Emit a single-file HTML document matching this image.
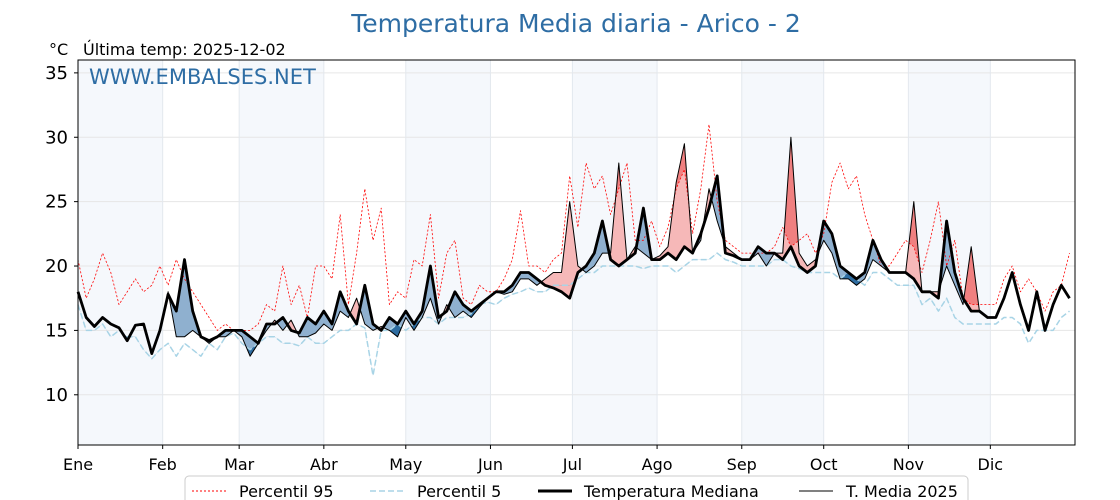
<!DOCTYPE html>
<html><head><meta charset="utf-8"><style>
body{margin:0;background:#fff;font-family:"Liberation Sans","DejaVu Sans",sans-serif;}
svg{display:block}
</style></head><body>
<svg id="chart" width="1120" height="500" font-family="'DejaVu Sans','Liberation Sans',sans-serif">
<text x="576" y="32" text-anchor="middle" font-size="25" fill="#2e6da4">Temperatura Media diaria - Arico - 2</text>
<text x="49" y="55" font-size="16" fill="#000">°C</text>
<text x="83" y="55" font-size="16" fill="#000">Última temp: 2025-12-02</text>
<g id="plot"></g>
<text x="89" y="84" font-size="21" fill="#2e6da4">WWW.EMBALSES.NET</text>
<g>
<rect x="185" y="476" width="783" height="34" rx="4" fill="#fff" stroke="#ccc"/>
<line x1="192" y1="491" x2="226" y2="491" stroke="red" stroke-width="1" stroke-dasharray="2,2"/>
<text x="239" y="497" font-size="16">Percentil 95</text>
<line x1="370" y1="491" x2="404" y2="491" stroke="#a8d4e6" stroke-width="1.5" stroke-dasharray="6,3"/>
<text x="417" y="497" font-size="16">Percentil 5</text>
<line x1="538" y1="491" x2="572" y2="491" stroke="#000" stroke-width="3"/>
<text x="584" y="497" font-size="16">Temperatura Mediana</text>
<line x1="799" y1="491" x2="833" y2="491" stroke="#000" stroke-width="1"/>
<text x="846" y="497" font-size="16">T. Media 2025</text>
</g>
</svg>
<script>
const monthLabels=["Ene","Feb","Mar","Abr","May","Jun","Jul","Ago","Sep","Oct","Nov","Dic"];
const monthStartDays=[0,31,59,90,120,151,181,212,243,273,304,334];
const yTicks=[10,15,20,25,30,35];
const stepDays=3;
const median=[18.0,16.0,15.3,16.0,15.5,15.2,14.2,15.4,15.5,13.2,15.0,
17.8,16.5,20.5,16.5,14.5,14.2,14.5,15.0,15.0,
15.0,14.5,14.0,15.5,15.5,16.0,15.0,14.8,16.0,15.5,
16.5,15.5,18.0,16.5,15.5,18.5,15.5,15.0,16.0,15.5,
16.5,15.5,16.5,20.0,16.0,16.5,18.0,17.0,16.5,17.0,17.5,
18.0,18.0,18.5,19.5,19.5,19.0,18.5,18.3,18.0,17.5,
19.5,20.0,21.0,23.5,20.5,20.0,20.5,21.0,24.5,20.5,
20.5,21.0,20.5,21.5,21.0,22.5,24.5,27.0,21.0,20.8,
20.5,20.5,21.5,21.0,21.0,20.5,21.5,20.0,19.5,20.0,
23.5,22.5,20.0,19.5,19.0,19.5,22.0,20.5,19.5,19.5,19.5,
19.0,18.0,18.0,17.5,23.5,19.5,17.5,16.5,16.5,16.0,
16.0,17.5,19.5,17.0,15.0,18.0,15.0,17.0,18.5,17.5];
const t2025=[18.0,16.0,15.3,16.0,15.5,15.2,14.2,15.4,15.5,13.2,15.0,
18.0,14.5,14.5,15.0,14.5,14.0,14.5,14.5,15.0,
14.5,13.0,14.0,15.0,15.8,15.0,15.8,14.5,14.5,14.8,
15.5,15.0,16.5,16.0,17.5,15.5,15.0,15.3,15.0,14.5,
16.0,15.0,16.0,17.5,15.5,17.0,16.0,16.5,16.0,16.8,17.5,
18.0,17.8,18.0,19.0,19.0,18.5,19.0,19.5,19.5,25.0,
20.0,19.5,20.0,21.0,21.0,28.0,20.5,21.5,21.0,20.5,
20.8,21.5,26.5,29.5,21.0,22.0,26.0,23.5,21.5,21.0,
20.5,20.5,21.0,20.0,21.0,21.0,30.0,21.0,20.0,20.5,
22.0,21.0,19.0,19.0,18.5,19.0,20.5,20.0,19.5,19.5,19.5,
25.0,18.0,18.0,18.0,20.0,18.5,17.0,21.5,16.5,16.0,
16.0];
const p95=[20.5,17.5,19.0,21.0,19.5,17.0,18.0,19.0,18.0,18.5,20.0,
18.5,20.5,19.0,18.0,17.0,16.0,15.0,15.5,15.0,
15.0,15.0,15.5,17.0,16.5,20.0,17.0,18.5,16.0,20.0,
20.0,19.0,24.0,17.0,21.0,26.0,22.0,24.5,17.0,18.0,
17.5,20.5,20.0,24.0,17.5,21.0,22.0,17.5,17.0,18.5,18.0,
18.0,19.0,20.5,24.3,20.0,20.0,19.5,20.5,21.0,27.0,
23.0,28.0,26.0,27.0,24.0,26.0,28.0,22.0,22.0,23.5,
21.5,23.0,26.0,27.5,22.5,26.0,31.0,25.0,22.0,21.5,
21.0,21.0,21.0,21.0,21.5,23.0,21.5,22.0,22.5,21.0,
22.5,26.5,28.0,26.0,27.0,24.0,22.0,20.0,20.0,21.0,22.0,
21.5,19.5,22.0,25.0,20.0,22.0,17.5,17.0,17.0,17.0,
17.0,19.0,20.0,18.0,19.0,18.0,16.5,18.0,18.5,21.0];
const p5=[17.0,15.0,15.0,15.5,14.5,15.0,14.5,14.5,13.5,12.8,13.5,
14.0,13.0,14.0,13.5,13.0,14.0,13.5,14.5,14.8,
14.0,13.5,14.0,14.5,14.5,14.0,14.0,13.8,14.5,14.0,
14.0,14.5,15.0,15.0,15.5,15.2,11.5,15.0,15.0,15.5,
15.0,15.5,16.0,16.0,15.5,16.0,16.0,16.0,16.3,17.0,17.2,
17.0,17.5,17.8,18.0,18.3,18.0,18.0,18.5,18.5,18.5,
19.0,19.5,19.5,20.0,20.0,20.0,20.0,20.0,19.8,20.0,
20.0,20.0,19.5,20.0,20.5,20.5,20.5,21.0,20.5,20.3,
20.0,20.0,20.0,20.0,20.5,20.5,20.0,19.8,19.5,19.5,
19.5,19.5,19.0,19.5,19.0,18.5,19.5,19.5,19.0,18.5,18.5,
18.5,17.0,17.5,16.5,17.5,16.0,15.5,15.5,15.5,15.5,
15.5,16.0,16.0,15.5,14.0,15.0,15.0,15.0,16.0,16.5];

const X0=78,X1=1075,Y0=60,Y1=445,TMIN=6.1,TMAX=36.0;
function xs(d){return X0+d*(X1-X0)/365;}
function ys(t){return Y1-(t-TMIN)*(Y1-Y0)/(TMAX-TMIN);}
const NS="http://www.w3.org/2000/svg";
const plot=document.getElementById('plot');
function mk(tag,attrs,parent){const e=document.createElementNS(NS,tag);for(const k in attrs)e.setAttribute(k,attrs[k]);(parent||plot).appendChild(e);return e;}
function pts(arr){return arr.map((v,i)=>xs(i*stepDays).toFixed(1)+","+ys(v).toFixed(1));}

monthStartDays.forEach((d,i)=>{
  if(i%2===0){const end=i+1<12?monthStartDays[i+1]:365;
    const r=mk('rect',{x:xs(d),y:Y0,width:xs(end)-xs(d),height:Y1-Y0,fill:'#f5f8fc'});
    
    }
});
yTicks.forEach(t=>{
  const l=mk('line',{x1:X0,x2:X1,y1:ys(t),y2:ys(t),stroke:'#e6e6e6','stroke-width':1});
  
  
  const tx=mk('text',{x:68,y:ys(t)+6,'text-anchor':'end','font-size':18});
  tx.textContent=t;
  
  
});
monthStartDays.forEach((d,i)=>{
  const l=mk('line',{x1:xs(d),x2:xs(d),y1:Y0,y2:Y1,stroke:'#e3e8ee','stroke-width':1});
  
  
  mk('line',{x1:xs(d),x2:xs(d),y1:Y1,y2:Y1+4,stroke:'#000'});
  const tx=mk('text',{x:xs(d),y:470,'text-anchor':'middle','font-size':16});
  tx.textContent=monthLabels[i];
  
  
});
yTicks.forEach(t=>mk('line',{x1:X0-4,x2:X0,y1:ys(t),y2:ys(t),stroke:'#000'}));

const n=t2025.length;
const defs=mk('defs',{});
function clipFor(id,arr,above){
  const cp=mk('clipPath',{id:id},defs);
  const p=pts(arr.slice(0,n));
  const yEdge=above?Y0:Y1;
  p.push(xs((n-1)*stepDays)+","+yEdge, xs(0)+","+yEdge);
  mk('polygon',{points:p.join(" ")},cp);
}
clipFor('aboveMed',median,true);clipFor('belowMed',median,false);
clipFor('aboveP95',p95,true);clipFor('belowP5',p5,false);
function band(ref,fill,clip,name){
  const a=pts(t2025), b=pts(ref.slice(0,n)).reverse();
  const p=mk('polygon',{points:a.concat(b).join(" "),fill:fill,'clip-path':'url(#'+clip+')'});
  
  
}
band(median,'#f6b8b8','aboveMed','fill-above-median');
band(median,'#8fb0cf','belowMed','fill-below-median');
band(p95,'#f08080','aboveP95','fill-above-p95');
band(p5,'#2e6ca0','belowP5','fill-below-p5');

function line(arr,attrs,name){
  const l=mk('polyline',Object.assign({points:pts(arr).join(" "),fill:'none','stroke-linejoin':'round'},attrs));
  
  
}
line(p95,{stroke:'red','stroke-width':0.8,'stroke-dasharray':'2,2'},'p95-line');
line(p5,{stroke:'#a8d4e6','stroke-width':1.5,'stroke-dasharray':'6,3'},'p5-line');
line(median,{stroke:'#000','stroke-width':2.8},'median-line');
line(t2025,{stroke:'#000','stroke-width':1},'t2025-line');

const fr=mk('rect',{x:X0,y:Y0,width:X1-X0,height:Y1-Y0,fill:'none',stroke:'#000','stroke-width':1});


</script>
</body></html>
